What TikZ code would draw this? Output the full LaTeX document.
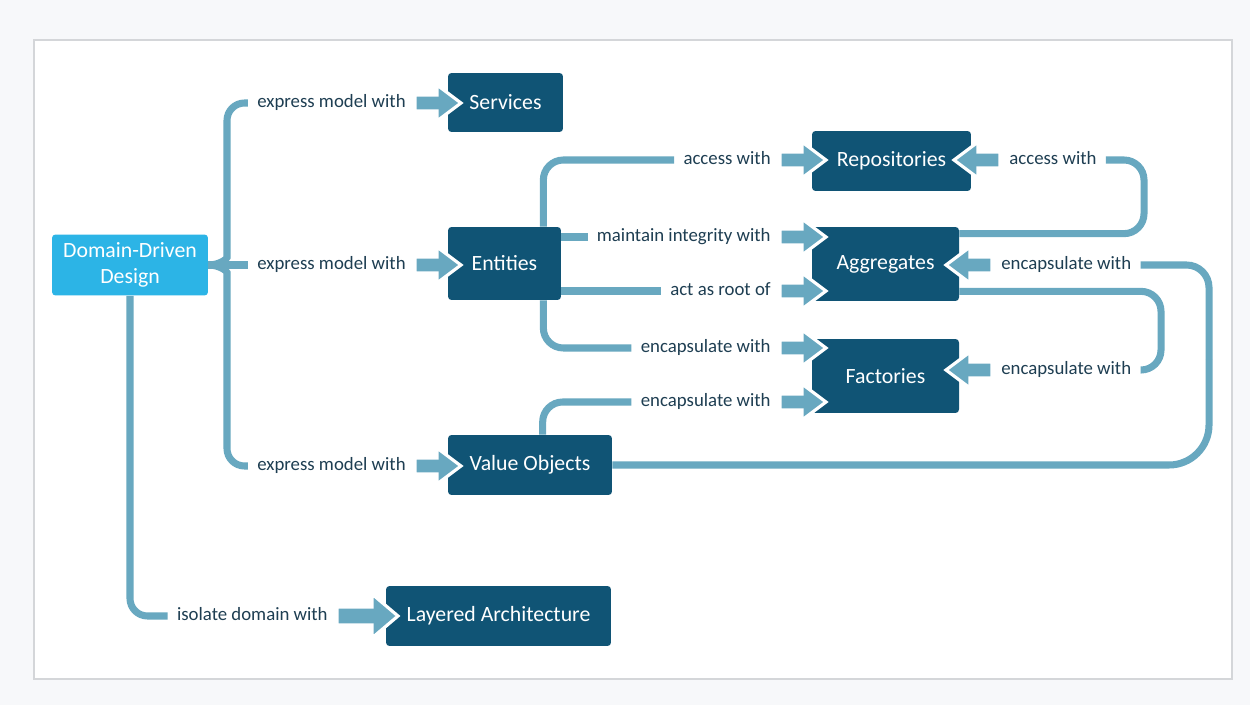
\documentclass[tikz,border=0pt]{standalone}
\usepackage{fontspec}
\setmainfont{Carlito}
\usetikzlibrary{calc}

\definecolor{boxdark}{RGB}{16,84,117}
\definecolor{boxlight}{RGB}{44,180,230}
\definecolor{link}{RGB}{104,168,192}
\definecolor{labeltext}{RGB}{30,62,82}
\definecolor{pagebg}{RGB}{247,248,250}
\definecolor{framegray}{RGB}{212,214,217}

\pgfdeclarelayer{bg}
\pgfdeclarelayer{lines}
\pgfsetlayers{bg,lines,main}

\tikzset{
  concept/.style={fill=boxdark, text=white, rounded corners=2pt, inner sep=0pt,
    align=center, font=\fontsize{12.4}{14.5}\selectfont},
  rootconcept/.style={concept, fill=boxlight},
  rel/.style={text=labeltext, font=\fontsize{10.7}{12}\selectfont,
    inner xsep=0.18cm, inner ysep=0pt, text height=1.5ex, text depth=0.5ex},
  conn/.style={draw=link, line width=4pt},
  pics/blockarrow/.style={code={
    \filldraw[fill=link, draw=white, line width=1.8pt, line join=miter]
      (0,-8) -- (22,-8) -- (22,-18) -- (46,0) -- (22,18) -- (22,8) -- (0,8) -- cycle;}},
  pics/widearrow/.style={code={
    \filldraw[fill=link, draw=white, line width=1.8pt, line join=miter]
      (0,-9) -- (35,-9) -- (35,-22) -- (61,0) -- (35,22) -- (35,9) -- (0,9) -- cycle;}},
}

\begin{document}
\begin{tikzpicture}[x=0.02cm, y=-0.02cm]
\useasboundingbox (0,0) rectangle (1250,705);

% page and panel
\begin{pgfonlayer}{bg}
  \fill[pagebg] (0,0) rectangle (1250,705);
  \filldraw[fill=white, draw=framegray, line width=0.6pt] (34,40) rectangle (1232,679);
\end{pgfonlayer}

% concepts
\node[rootconcept, minimum width=3.12cm, minimum height=1.22cm] (ddd) at (130,265) {Domain-Driven\\Design};
\node[concept, minimum width=2.30cm, minimum height=1.18cm] (srv) at (505.5,102.5) {Services};
\node[concept, minimum width=2.26cm, minimum height=1.46cm] (ent) at (504.5,263.5) {Entities};
\node[concept, minimum width=3.28cm, minimum height=1.20cm] (vo) at (530,465) {Value Objects};
\node[concept, minimum width=4.50cm, minimum height=1.20cm] (lay) at (498.5,616) {Layered Architecture};
\node[concept, minimum width=3.18cm, minimum height=1.20cm] (rep) at (891.5,161) {Repositories};
\node[concept, minimum width=2.94cm, minimum height=1.48cm] (agg) at (885.5,264) {Aggregates};
\node[concept, minimum width=2.94cm, minimum height=1.48cm] (fac) at (885.5,376) {Factories};

% relation labels
\node[rel, anchor=east] (lsrv) at (415,103) {express model with};
\node[rel, anchor=east] (lent) at (415,265) {express model with};
\node[rel, anchor=east] (lvo) at (415,466) {express model with};
\node[rel, anchor=east] (llay) at (337,616) {isolate domain with};
\node[rel, anchor=east] (lrep1) at (780,160) {access with};
\node[rel, anchor=east] (lmi) at (780,237) {maintain integrity with};
\node[rel, anchor=east] (lroot) at (780,291) {act as root of};
\node[rel, anchor=east] (lfac1) at (780,348) {encapsulate with};
\node[rel, anchor=east] (lfac2) at (780,402) {encapsulate with};
\node[rel, anchor=west] (lrep2) at (1000,160) {access with};
\node[rel, anchor=west] (lagg) at (992,265) {encapsulate with};
\node[rel, anchor=west] (lfac3) at (992,370) {encapsulate with};

% turning points of the long loops
\coordinate (vomid) at (1209,360);
\coordinate (aggrep) at (1144,160);
\coordinate (aggfac) at (1161,370);

% connectors
\begin{pgfonlayer}{lines}
  \draw[conn, rounded corners=0.35cm] (ddd.east) .. controls (219,265) and (227,259) .. (227,240) |- (lsrv.west);
  \draw[conn] (ddd.east) -- (lent.west);
  \draw[conn, rounded corners=0.35cm] (ddd.east) .. controls (219,265) and (227,271) .. (227,290) |- (lvo.west);
  \draw[conn, rounded corners=0.35cm] (ddd.south) |- (llay.west);

  \draw[conn, rounded corners=0.4cm] ($(ent.north east)+(-18,0)$) |- (lrep1.west);
  \draw[conn] (ent.east |- lmi.west) -- (lmi.west);
  \draw[conn] (ent.east |- lroot.west) -- (lroot.west);
  \draw[conn, rounded corners=0.4cm] ($(ent.south east)+(-18,0)$) |- (lfac1.west);

  \draw[conn, rounded corners=0.4cm] ($(vo.north west)+(95,0)$) |- (lfac2.west);
  \draw[conn, rounded corners=0.8cm] (vo.east) -| (vomid);
  \draw[conn, rounded corners=0.45cm] (vomid) |- (lagg.east);

  \draw[conn, rounded corners=0.4cm] ($(agg.north east)+(0,7)$) -| (aggrep) -- (lrep2.east);
  \draw[conn, rounded corners=0.4cm] ($(agg.south east)+(0,-10)$) -| (aggfac) -- (lfac3.east);
\end{pgfonlayer}

% block arrows into the concepts
\pic at (lsrv.east) {blockarrow};
\pic at (lent.east) {blockarrow};
\pic at (lvo.east) {blockarrow};
\pic at (llay.east) {widearrow};
\pic at (lrep1.east) {blockarrow};
\pic at (lmi.east) {blockarrow};
\pic at (lroot.east) {blockarrow};
\pic at (lfac1.east) {blockarrow};
\pic at (lfac2.east) {blockarrow};
\pic[rotate=180] at (lrep2.west) {blockarrow};
\pic[rotate=180] at (lagg.west) {blockarrow};
\pic[rotate=180] at (lfac3.west) {blockarrow};
\end{tikzpicture}
\end{document}
